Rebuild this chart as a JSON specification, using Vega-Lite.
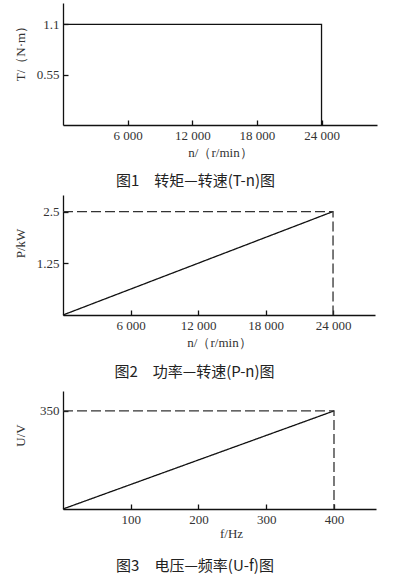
{
  "$schema": "https://vega.github.io/schema/vega-lite/v6.json",
  "background": "white",
  "padding": {"left": 13, "top": 3, "right": 5, "bottom": 0},
  "datasets": {
    "torque": [
      {"x": 0, "y": 1.1, "kind": "solid", "o": 1},
      {"x": 24000, "y": 1.1, "kind": "solid", "o": 2},
      {"x": 24000, "y": 0, "kind": "solid", "o": 3}
    ],
    "power": [
      {"x": 0, "y": 0, "kind": "solid", "o": 1},
      {"x": 24000, "y": 2.5, "kind": "solid", "o": 2},
      {"x": 0, "y": 2.5, "kind": "dashed", "o": 1},
      {"x": 24000, "y": 2.5, "kind": "dashed", "o": 2},
      {"x": 24000, "y": 0, "kind": "dashed", "o": 3}
    ],
    "voltage": [
      {"x": 0, "y": 0, "kind": "solid", "o": 1},
      {"x": 400, "y": 350, "kind": "solid", "o": 2},
      {"x": 0, "y": 350, "kind": "dashed", "o": 1},
      {"x": 400, "y": 350, "kind": "dashed", "o": 2},
      {"x": 400, "y": 0, "kind": "dashed", "o": 3}
    ]
  },
  "config": {
    "view": {"stroke": null},
    "font": "Liberation Serif",
    "axis": {
      "grid": false,
      "domainColor": "#111",
      "domainWidth": 1.3,
      "tickColor": "#111",
      "tickWidth": 1.3,
      "tickSize": -5,
      "labelFont": "Liberation Serif",
      "labelFontSize": 13,
      "labelColor": "#333",
      "titleFont": "Liberation Serif",
      "titleFontSize": 13,
      "titleFontWeight": "normal",
      "titleColor": "#333"
    },
    "axisX": {"labelPadding": 9, "titlePadding": 4},
    "axisY": {"labelPadding": 9, "titleAngle": -90, "titleX": -43, "titleAlign": "center", "titleBaseline": "middle", "format": ".3~g"},
    "title": {"orient": "bottom", "font": "Noto Sans CJK SC", "fontSize": 15, "fontWeight": "normal", "color": "#222", "anchor": "middle", "frame": "bounds"},
    "line": {"color": "#111", "strokeWidth": 1.3}
  },
  "spacing": 11,
  "vconcat": [
    {
      "spacing": 6,
      "vconcat": [
        {
          "data": {"name": "torque"},
          "width": 314,
          "height": 122,
          "title": {"text": "图1　转矩—转速(T-n)图", "offset": 15},
          "mark": "line",
          "encoding": {
            "x": {"field": "x", "type": "quantitative", "scale": {"domain": [0, 29150], "nice": false},
              "axis": {"title": "n/（r/min）", "values": [6000, 12000, 18000, 24000], "labelExpr": "replace(format(datum.value, ','), ',', ' ')"}},
            "y": {"field": "y", "type": "quantitative", "scale": {"domain": [0, 1.334], "nice": false},
              "axis": {"title": "T/（N·m）", "values": [0.55, 1.1], "titleY": 47}},
            "order": {"field": "o"}
          }
        },
        {
          "data": {"name": "power"},
          "width": 312,
          "height": 120,
          "title": {"text": "图2　功率—转速(P-n)图", "offset": 16},
          "mark": "line",
          "encoding": {
            "x": {"field": "x", "type": "quantitative", "scale": {"domain": [0, 27730], "nice": false},
              "axis": {"title": "n/（r/min）", "values": [6000, 12000, 18000, 24000], "labelExpr": "replace(format(datum.value, ','), ',', ' ')"}},
            "y": {"field": "y", "type": "quantitative", "scale": {"domain": [0, 2.9], "nice": false},
              "axis": {"title": "P/kW", "values": [1.25, 2.5], "titleY": 48}},
            "detail": {"field": "kind"},
            "strokeDash": {"field": "kind", "type": "nominal", "scale": {"domain": ["solid", "dashed"], "range": [[1, 0], [10, 4]]}, "legend": null},
            "color": {"field": "kind", "type": "nominal", "scale": {"domain": ["solid", "dashed"], "range": ["#111", "#333"]}, "legend": null},
            "order": {"field": "o"}
          }
        }
      ]
    },
    {
      "data": {"name": "voltage"},
      "width": 313,
      "height": 118,
      "title": {"text": "图3　电压—频率(U-f)图", "offset": 19},
      "mark": "line",
      "encoding": {
        "x": {"field": "x", "type": "quantitative", "scale": {"domain": [0, 462], "nice": false},
          "axis": {"title": "f/Hz", "values": [100, 200, 300, 400], "titlePadding": 1, "titleX": 168, "titleAlign": "center"}},
        "y": {"field": "y", "type": "quantitative", "scale": {"domain": [0, 421], "nice": false},
          "axis": {"title": "U/V", "values": [350], "titleY": 44}},
        "detail": {"field": "kind"},
        "strokeDash": {"field": "kind", "type": "nominal", "scale": {"domain": ["solid", "dashed"], "range": [[1, 0], [10, 4]]}, "legend": null},
        "color": {"field": "kind", "type": "nominal", "scale": {"domain": ["solid", "dashed"], "range": ["#111", "#333"]}, "legend": null},
        "order": {"field": "o"}
      }
    }
  ]
}
